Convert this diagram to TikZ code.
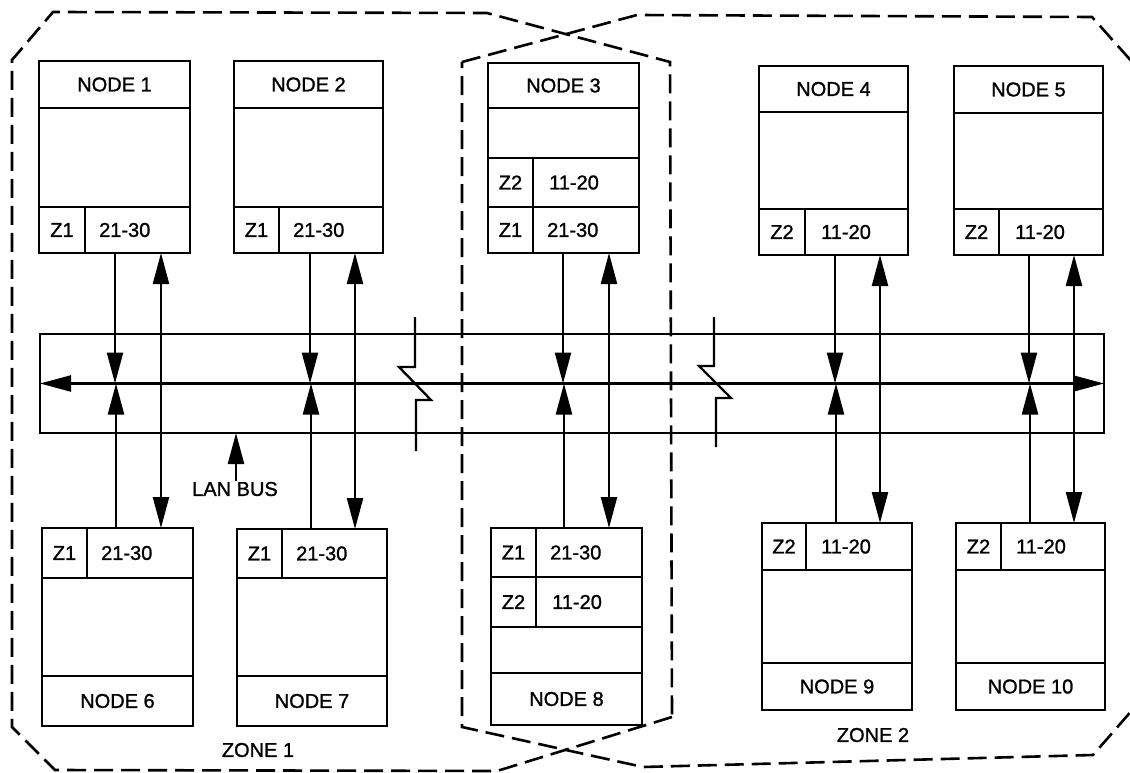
\documentclass[tikz,border=0pt]{standalone}
\usepackage{fontspec}
\setmainfont{Liberation Sans}
\newfontfamily\scanfont[FakeBold=1.2]{Liberation Sans}
\usetikzlibrary{arrows.meta}
\tikzset{
  box/.style={draw, line width=2.5pt, anchor=north west, inner sep=0pt, outer sep=0pt},
  sep/.style={line width=2.5pt},
  zone/.style={line width=2.6pt, dash pattern=on 19pt off 8pt},
  txt/.style={font=\scanfont\fontsize{20}{23}\selectfont, inner sep=1pt},
  conn/.style={line width=2.3pt},
  tip/.style={-{Triangle[length=31pt,width=16pt]}},
  dtip/.style={{Triangle[length=31pt,width=16pt]}-{Triangle[length=31pt,width=16pt]}},
}
\begin{document}
\begin{tikzpicture}[x=1pt,y=-1pt]
\useasboundingbox (0,0) rectangle (1130,773);
\clip (0,0) rectangle (1130,773);

% zones
\draw[zone] (672,717) -- (497,771) -- (55,770) -- (12,727) -- (12,60) -- (53,12) -- (487,13) -- (670,62) -- cycle;
\draw[zone] (462,62) -- (637,15) -- (1092,17) -- (1134,64) -- (1134,708) -- (1093,755) -- (643,767) -- (462,727) -- cycle;

% bus
\node[box, minimum width=1064pt, minimum height=99pt] (bus) at (40,334) {};

% top nodes
\node[box, minimum width=151pt, minimum height=192pt] (n1) at (39,61) {};
\draw[sep] (39,108) -- (190,108) (39,207) -- (190,207) (85,207) -- (85,253);
\node[txt] at (114.5,84.5) {NODE 1};
\node[txt] at (62,230) {Z1};
\node[txt, anchor=west] at (98,230) {21-30};

\node[box, minimum width=149pt, minimum height=192pt] (n2) at (234,61) {};
\draw[sep] (234,108) -- (383,108) (234,207) -- (383,207) (279,207) -- (279,253);
\node[txt] at (308.5,84.5) {NODE 2};
\node[txt] at (256.5,230) {Z1};
\node[txt, anchor=west] at (292,230) {21-30};

\node[box, minimum width=151pt, minimum height=190pt] (n3) at (488,63) {};
\draw[sep] (488,108) -- (639,108) (488,158) -- (639,158) (488,207) -- (639,207) (533,158) -- (533,253);
\node[txt] at (563.5,85.5) {NODE 3};
\node[txt] at (510.5,182.5) {Z2};
\node[txt, anchor=west] at (548,182.5) {11-20};
\node[txt] at (510.5,230) {Z1};
\node[txt, anchor=west] at (546,230) {21-30};

\node[box, minimum width=149pt, minimum height=189pt] (n4) at (759,66) {};
\draw[sep] (759,112) -- (908,112) (759,209) -- (908,209) (805,209) -- (805,255);
\node[txt] at (833.5,89) {NODE 4};
\node[txt] at (782,232) {Z2};
\node[txt, anchor=west] at (820,232) {11-20};

\node[box, minimum width=149pt, minimum height=189pt] (n5) at (954,66) {};
\draw[sep] (954,113) -- (1103,113) (954,209) -- (1103,209) (999,209) -- (999,255);
\node[txt] at (1028.5,89.5) {NODE 5};
\node[txt] at (976.5,232) {Z2};
\node[txt, anchor=west] at (1014,232) {11-20};

% bottom nodes
\node[box, minimum width=151pt, minimum height=198pt] (n6) at (42,528) {};
\draw[sep] (42,578) -- (193,578) (42,676) -- (193,676) (87,528) -- (87,578);
\node[txt] at (117.5,701) {NODE 6};
\node[txt] at (64.5,553) {Z1};
\node[txt, anchor=west] at (100,553) {21-30};

\node[box, minimum width=150pt, minimum height=197pt] (n7) at (237,529) {};
\draw[sep] (237,578) -- (387,578) (237,676) -- (387,676) (282,529) -- (282,578);
\node[txt] at (312,701) {NODE 7};
\node[txt] at (259.5,553.5) {Z1};
\node[txt, anchor=west] at (295,553.5) {21-30};

\node[box, minimum width=151pt, minimum height=197pt] (n8) at (491,528) {};
\draw[sep] (491,577) -- (642,577) (491,627) -- (642,627) (491,673) -- (642,673) (536,528) -- (536,627);
\node[txt] at (566.5,699) {NODE 8};
\node[txt] at (513.5,552.5) {Z1};
\node[txt, anchor=west] at (549,552.5) {21-30};
\node[txt] at (513.5,602) {Z2};
\node[txt, anchor=west] at (551,602) {11-20};

\node[box, minimum width=150pt, minimum height=187pt] (n9) at (762,523) {};
\draw[sep] (762,570) -- (912,570) (762,663) -- (912,663) (806,523) -- (806,570);
\node[txt] at (837,686.5) {NODE 9};
\node[txt] at (784,546.5) {Z2};
\node[txt, anchor=west] at (820,546.5) {11-20};

\node[box, minimum width=149pt, minimum height=187pt] (n10) at (956,523) {};
\draw[sep] (956,570) -- (1105,570) (956,663) -- (1105,663) (1001,523) -- (1001,570);
\node[txt] at (1030.5,686.5) {NODE 10};
\node[txt] at (978.5,546.5) {Z2};
\node[txt, anchor=west] at (1015,546.5) {11-20};

% bus arrows
\draw[conn, dtip] (bus.west) -- (bus.east);

% node-to-bus arrows (down from top nodes, up from bottom nodes)
\draw[conn, tip] (n1.south -| 115,0) -- (bus.center -| 115,0);
\draw[conn, tip] (n6.north -| 116,0) -- (bus.center -| 116,0);
\draw[conn, tip] (n2.south -| 310,0) -- (bus.center -| 310,0);
\draw[conn, tip] (n7.north -| 311,0) -- (bus.center -| 311,0);
\draw[conn, tip] (n3.south -| 563,0) -- (bus.center -| 563,0);
\draw[conn, tip] (n8.north -| 564,0) -- (bus.center -| 564,0);
\draw[conn, tip] (n4.south -| 835,0) -- (bus.center -| 835,0);
\draw[conn, tip] (n9.north -| 836,0) -- (bus.center -| 836,0);
\draw[conn, tip] (n5.south -| 1029,0) -- (bus.center -| 1029,0);
\draw[conn, tip] (n10.north -| 1030,0) -- (bus.center -| 1030,0);

% node-to-node double arrows
\draw[conn, dtip] (n1.south -| 161,0) -- (n6.north -| 161,0);
\draw[conn, dtip] (n2.south -| 355,0) -- (n7.north -| 355,0);
\draw[conn, dtip] (n3.south -| 609,0) -- (n8.north -| 609,0);
\draw[conn, dtip] (n4.south -| 880,0) -- (n9.north -| 880,0);
\draw[conn, dtip] (n5.south -| 1074,0) -- (n10.north -| 1074,0);

% breaks
\draw[conn] (415,317) -- (415,367) -- (399,367) -- (431,400) -- (416,400) -- (416,451);
\draw[conn] (714,317) -- (714,366) -- (699,366) -- (731,398) -- (716,398) -- (716,447);

% LAN BUS label
\node[txt] (lan) at (235,489) {LAN BUS};
\draw[conn, tip] (lan.north -| 236,0) -- (bus.south -| 236,0);

% zone labels
\node[txt] (z1) at (258,750) {ZONE 1};
\node[txt] (z2) at (873,735) {ZONE 2};
\end{tikzpicture}
\end{document}
